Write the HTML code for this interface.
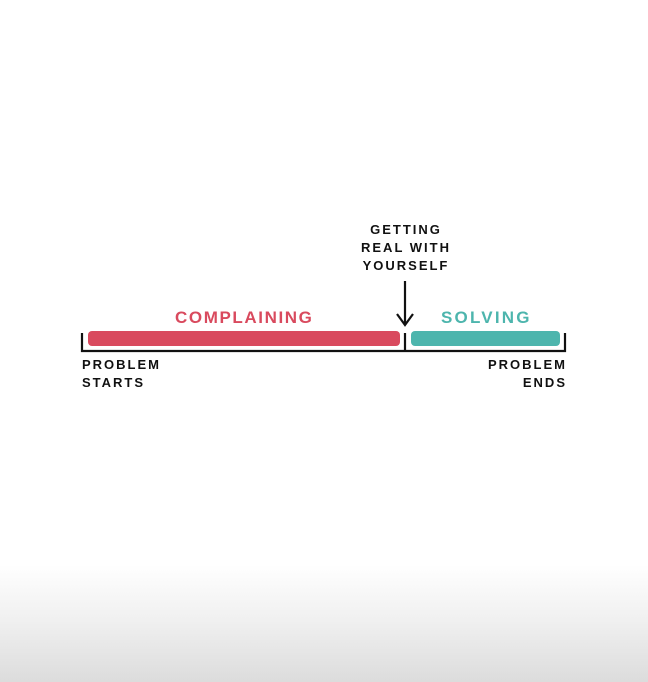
<!DOCTYPE html>
<html><head><style>
html,body{margin:0;padding:0}
body{width:648px;height:682px;position:relative;overflow:hidden;background:linear-gradient(to bottom,#fff 0,#fff 565px,#f0f0f0 620px,#dcdcdc 682px);font-family:"Liberation Sans",sans-serif;font-weight:bold}
.t{position:absolute;white-space:nowrap;letter-spacing:2px}
</style></head><body>
<svg width="648" height="682" style="position:absolute;left:0;top:0">
<rect x="88" y="331" width="312" height="15" rx="4" fill="#d94a5e"/>
<rect x="411" y="331" width="149" height="15" rx="4" fill="#4db5ad"/>
<path d="M82 333 V351 H565 V333 M405 333 V351" fill="none" stroke="#111" stroke-width="2.2"/>
<path d="M405 281 V324 M397 314 L405 325 L413 314" fill="none" stroke="#111" stroke-width="2.2"/>
</svg>
<div class="t" style="left:175px;top:308px;font-size:17px;letter-spacing:1.6px;color:#d94a5e">COMPLAINING</div>
<div class="t" style="left:441px;top:308px;font-size:17px;letter-spacing:2.2px;color:#4db5ad">SOLVING</div>
<div class="t" style="left:351px;top:221px;width:110px;text-align:center;font-size:13px;line-height:18px;color:#111">GETTING<br>REAL WITH<br>YOURSELF</div>
<div class="t" style="left:82px;top:356px;font-size:13px;line-height:18px;color:#111">PROBLEM<br>STARTS</div>
<div class="t" style="left:456px;top:356px;width:111px;text-align:right;font-size:13px;line-height:18px;color:#111;letter-spacing:2px">PROBLEM<br>ENDS</div>
</body></html>
